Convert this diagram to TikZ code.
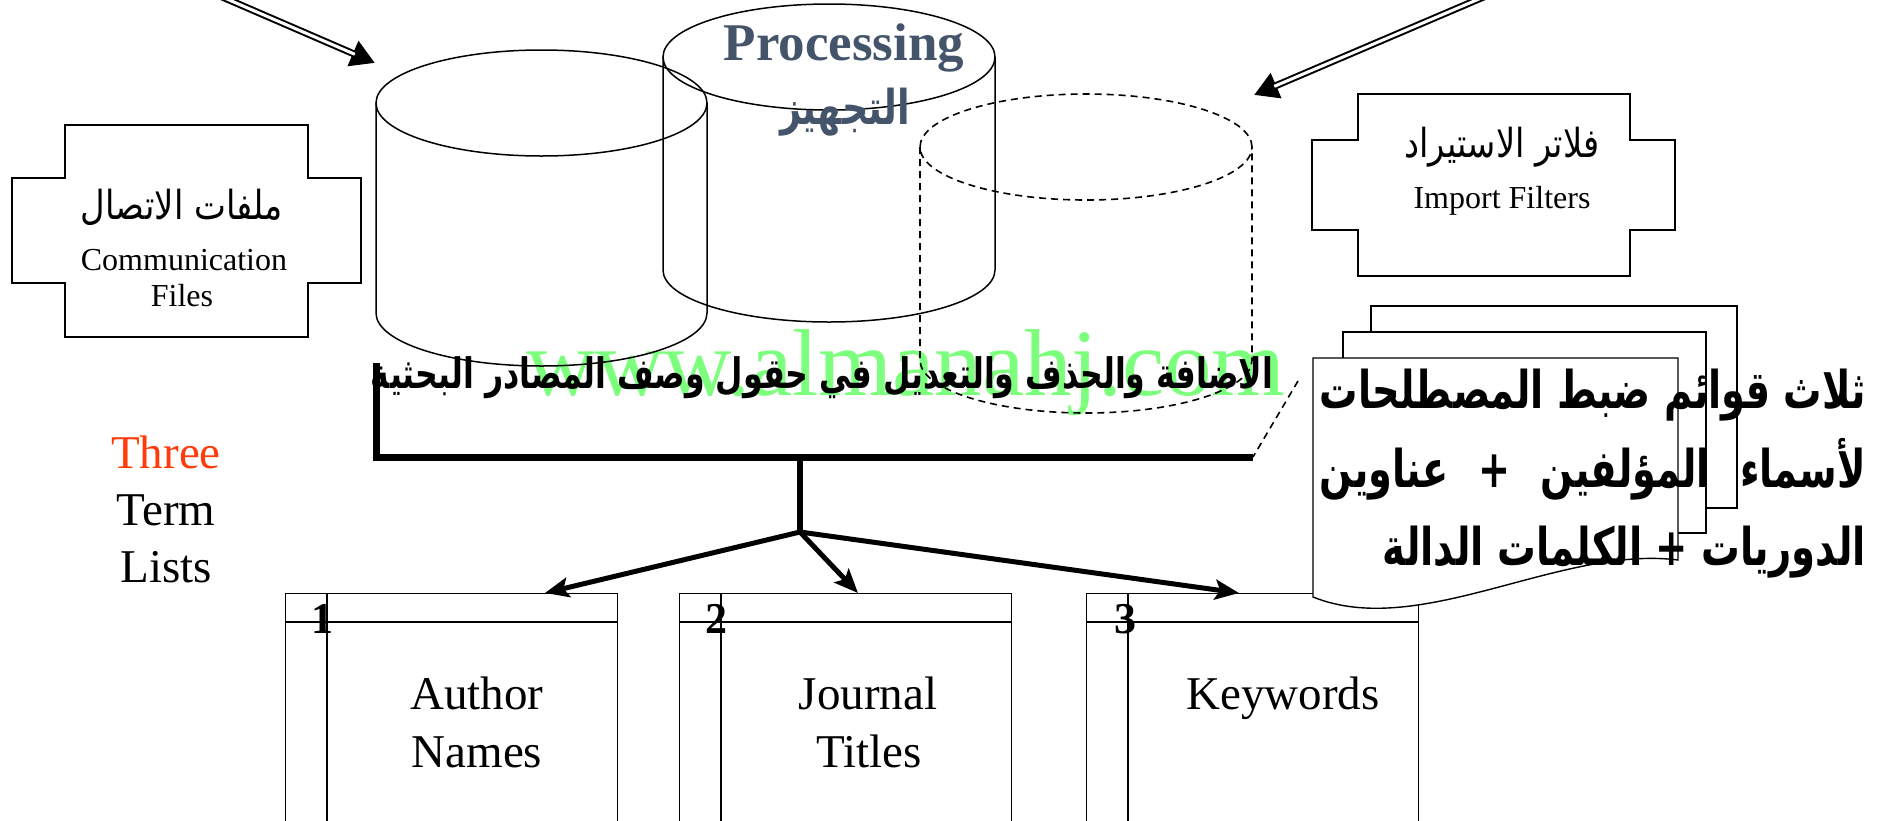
\documentclass[tikz,border=0pt]{standalone}
\usepackage{fontspec}
\usepackage{graphicx}
\usetikzlibrary{arrows.meta}
\setmainfont{Liberation Serif}
\newfontfamily\arabicfont[Script=Arabic]{DejaVu Sans}
\TeXXeTstate=1
\definecolor{tred}{HTML}{FF3B0A}
\definecolor{slate}{HTML}{44546A}
\definecolor{wm}{HTML}{7CFF7C}
\newcommand\artxt[1]{{\arabicfont\bfseries\beginR #1\endR}}
\newcommand\artxtr[1]{{\arabicfont\beginR #1\endR}}
\newcommand\fs[1]{\fontsize{#1}{#1}\selectfont}
\newsavebox\lineone
\begin{document}
\sbox\lineone{\fs{52}\artxt{{\color{tred}ثلاث} قوائم ضبط المصطلحات}}
\begin{tikzpicture}[x=1pt,y=-1pt,
  thin/.style={line width=1.4pt},
  cyl/.style={line width=1.5pt},
  dcyl/.style={line width=1.6pt, dash pattern=on 7pt off 5pt},
  dblout/.style={line width=7pt, -{Triangle[length=24pt,width=26pt]}},
  dblin/.style={white, line width=3pt, shorten >=22pt},
  tree/.style={line width=5pt, -{Stealth[length=24pt,width=20pt,inset=5pt]}},
  listbox/.style={draw, thin, minimum width=332pt, minimum height=260pt, anchor=north west, inner sep=0},
  en/.style={inner sep=0, anchor=base, font=\fs{47}},
  ensm/.style={inner sep=0, anchor=base, font=\fs{32}},
  num/.style={inner sep=0, anchor=base, font=\fs{44}\bfseries},
  ar/.style={inner sep=0, anchor=base}]
\useasboundingbox (0,0) rectangle (1888,820);

% watermark
\node[inner sep=0, anchor=base, text=wm, font=\fs{95}] (wmark) at (906,395) {www.almanahj.com};

% cylinders
\coordinate (c1in) at (375,63);
\coordinate (c3in) at (1254,95);
\coordinate (srcL) at (206,-10);
\coordinate (srcR) at (1500,-10);
\draw[cyl] (541.5,103) ellipse [x radius=165.5pt, y radius=53pt];
\draw[cyl] (376,103) -- (376,313) arc[start angle=180, end angle=360, x radius=165.5pt, y radius=53pt] -- (707,103);
\draw[cyl] (829,57) ellipse [x radius=166pt, y radius=53pt];
\draw[cyl] (663,57) -- (663,270) arc[start angle=180, end angle=360, x radius=166pt, y radius=52pt] -- (995,57);
\draw[dcyl] (1086,147) ellipse [x radius=166pt, y radius=53pt];
\draw[dcyl] (920,147) -- (920,360) arc[start angle=180, end angle=360, x radius=166pt, y radius=53pt] -- (1252,147);

\draw[dblout] (srcL) -- (c1in);
\draw[dblin] (srcL) -- (c1in);
\draw[dblout] (srcR) -- (c3in);
\draw[dblin] (srcR) -- (c3in);

% Processing text
\node[inner sep=0, anchor=base, text=slate, font=\fs{53}\bfseries] (proc) at (844,60) {Processing};
\node[ar, text=slate] (procar) at (845,124) {\resizebox{130pt}{\height}{\fs{48}\artxt{التجهيز}}};

% communication box
\draw[thin] (65,125) -- (308,125) -- (308,178) -- (361,178) -- (361,283) -- (308,283) -- (308,337) -- (65,337) -- (65,283) -- (12,283) -- (12,178) -- (65,178) -- cycle;
\node[ar] (commar) at (182,219) {\resizebox{202pt}{\height}{\fs{40}\artxtr{ملفات الاتصال}}};
\node[ensm] (comm1) at (184,270) {Communication};
\node[ensm] (comm2) at (182,306) {Files};

% import box
\draw[thin] (1358,94) -- (1630,94) -- (1630,140) -- (1675,140) -- (1675,230) -- (1630,230) -- (1630,276) -- (1358,276) -- (1358,230) -- (1312,230) -- (1312,140) -- (1358,140) -- cycle;
\node[ar] (impar) at (1502,157) {\resizebox{195pt}{\height}{\fs{40}\artxtr{فلاتر الاستيراد}}};
\node[ensm] (imp1) at (1502,208) {Import Filters};

% middle arabic line
\node[ar] (edit) at (822,388) {\resizebox{902pt}{\height}{\fs{42}\artxt{الاضافة والحذف والتعديل في حقول وصف المصادر البحثية}}};

% bracket
\coordinate (brL) at (376,363);
\coordinate (brC) at (376,457);
\coordinate (brR) at (1253,457);
\coordinate (stemT) at (800,457);
\coordinate (br) at (800,532);
\draw[line width=7pt] (brL) -- (brC) -- (brR);
\draw[line width=6pt] (stemT) -- (br);
\draw[dcyl] (1298,381) -- (brR);

% list boxes
\node[listbox] (b1) at (285,593) {};
\node[listbox] (b2) at (679,593) {};
\node[listbox] (b3) at (1086,593) {};
\foreach \b in {b1,b2,b3}{
  \draw[thin] ([yshift=-29pt]\b.north west) -- ([yshift=-29pt]\b.north east);
  \draw[thin] ([xshift=42pt]\b.north west) -- ([xshift=42pt]\b.south west);
}
\coordinate (t1) at (545,593);
\coordinate (t2) at (858,593);
\coordinate (t3) at (1239,593);
\draw[tree] (br) -- (t1);
\draw[tree] (br) -- (t2);
\draw[tree] (br) -- (t3);

\node[num] (n1) at (322,633) {1};
\node[num] (n2) at (716,633) {2};
\node[num] (n3) at (1125,633) {3};
\node[en] (l1a) at (477,709) {Author};
\node[en] (l1b) at (477,767) {Names};
\node[en] (l2a) at (868,709) {Journal};
\node[en] (l2b) at (869,767) {Titles};
\node[en] (l3a) at (1283,709) {Keywords};

% three term lists
\node[en, text=tred] (three) at (166,468) {Three};
\node[en] (term) at (166,525) {Term};
\node[en] (lists) at (166,582) {Lists};

% document stack
\draw[thin, fill=white] (1371,306) rectangle (1737,508);
\draw[thin, fill=white] (1343,332) rectangle (1706,533);
\draw[thin, fill=white] (1313,358) -- (1678,358) -- (1678,560) .. controls (1560,545) and (1420,640) .. (1313,597) -- cycle;
\node[ar, anchor=base east] (d1) at (1866,408) {\resizebox{546pt}{\height}{\usebox\lineone}};
\node[ar, anchor=base east] (d2) at (1866,487) {\resizebox{546pt}{\height}{\hbox to \wd\lineone{\fs{52}\artxt{لأسماء\hfill المؤلفين\hfill +\hfill عناوين}}}};
\node[ar, anchor=base east] (d3) at (1866,565) {\resizebox{483pt}{\height}{\fs{52}\artxt{الدوريات + الكلمات الدالة}}};
\end{tikzpicture}
\end{document}
